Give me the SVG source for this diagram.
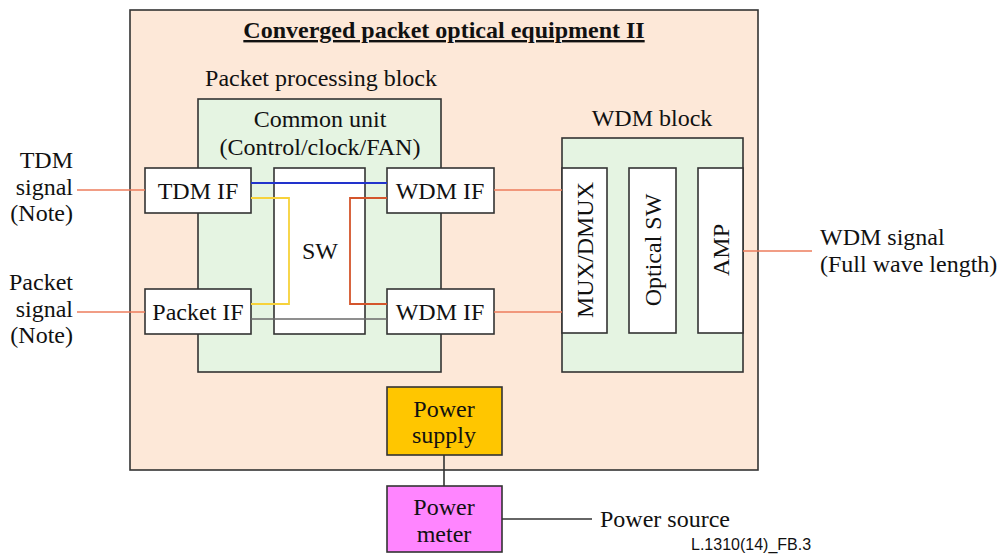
<svg xmlns="http://www.w3.org/2000/svg" width="998" height="555" viewBox="0 0 998 555">
<style>
.t{font-family:"Liberation Serif","Times New Roman",serif;font-size:24px;fill:#111}
.box{stroke:#333;stroke-width:1.6}
.w{fill:#fff}
.g{fill:#e5f4e2}
.sig{stroke:#ec7c5c;stroke-width:1.6;fill:none}
.blk{stroke:#333;stroke-width:1.6;fill:none}
</style>
<rect width="998" height="555" fill="#fff"/>
<g id="equipment">
<rect class="box" x="130" y="10" width="628" height="460" fill="#fde8d8"/>
<text class="t" x="444" y="38" text-anchor="middle" font-weight="bold" text-decoration="underline">Converged packet optical equipment II</text>
</g>
<g id="packet-block">
<text class="t" x="321" y="86" text-anchor="middle">Packet processing block</text>
<rect class="box g" x="198" y="99" width="243" height="273"/>
<text class="t" x="320" y="127" text-anchor="middle">Common unit</text>
<text class="t" x="320" y="155" text-anchor="middle">(Control/clock/FAN)</text>
</g>
<g id="wdm-block">
<text class="t" x="652" y="126" text-anchor="middle">WDM block</text>
<rect class="box g" x="562" y="138" width="181" height="234"/>
</g>
<g id="tdm-if"><rect class="box w" x="145" y="168" width="106" height="45"/><text class="t" x="198" y="199" text-anchor="middle">TDM IF</text></g>
<g id="packet-if"><rect class="box w" x="145" y="289" width="106" height="45"/><text class="t" x="198" y="320" text-anchor="middle">Packet IF</text></g>
<g id="sw"><rect class="box w" x="274" y="168" width="91" height="166"/><text class="t" x="320" y="259" text-anchor="middle">SW</text></g>
<g id="wdm-if-1"><rect class="box w" x="387" y="168" width="107" height="45"/><text class="t" x="440" y="199" text-anchor="middle">WDM IF</text></g>
<g id="wdm-if-2"><rect class="box w" x="387" y="289" width="107" height="45"/><text class="t" x="440" y="320" text-anchor="middle">WDM IF</text></g>
<g id="mux"><rect class="box w" x="562" y="168" width="45" height="165"/><text class="t" transform="translate(593,250) rotate(-90)" text-anchor="middle">MUX/DMUX</text></g>
<g id="optical-sw"><rect class="box w" x="629" y="168" width="47" height="165"/><text class="t" transform="translate(661,250) rotate(-90)" text-anchor="middle">Optical SW</text></g>
<g id="amp"><rect class="box w" x="698" y="168" width="45" height="165"/><text class="t" transform="translate(729,250) rotate(-90)" text-anchor="middle">AMP</text></g>
<g id="power-supply"><rect class="box" x="387" y="387" width="115" height="68" fill="#ffc600"/><text class="t" x="444" y="417" text-anchor="middle">Power</text><text class="t" x="444" y="443" text-anchor="middle">supply</text></g>
<g id="power-meter"><rect class="box" x="387" y="486" width="115" height="66" fill="#ff85ff"/><text class="t" x="444" y="515" text-anchor="middle">Power</text><text class="t" x="444" y="542" text-anchor="middle">meter</text></g>
<g id="labels">
<text class="t" text-anchor="end"><tspan x="73" y="168">TDM</tspan><tspan x="73" y="195">signal</tspan><tspan x="73" y="221">(Note)</tspan></text>
<text class="t" text-anchor="end"><tspan x="73" y="290">Packet</tspan><tspan x="73" y="317">signal</tspan><tspan x="73" y="343">(Note)</tspan></text>
<text class="t"><tspan x="820" y="245">WDM signal</tspan><tspan x="820" y="272">(Full wave length)</tspan></text>
<text class="t" x="600" y="527">Power source</text>
<text x="691" y="550" font-family="Liberation Sans,Arial,sans-serif" font-size="16" fill="#111">L.1310(14)_FB.3</text>
</g>
<g id="connectors">
<line class="sig" x1="77" y1="190" x2="145" y2="190"/>
<line class="sig" x1="77" y1="312" x2="145" y2="312"/>
<line class="sig" x1="494" y1="190" x2="562" y2="190"/>
<line class="sig" x1="494" y1="312" x2="562" y2="312"/>
<line class="sig" x1="743" y1="251" x2="812" y2="251"/>
<line x1="251" y1="183" x2="387" y2="183" stroke="#2233cc" stroke-width="1.8"/>
<polyline points="251,198 289,198 289,304 251,304" fill="none" stroke="#f7d23a" stroke-width="1.8"/>
<polyline points="387,198 350,198 350,304 387,304" fill="none" stroke="#d4552c" stroke-width="1.8"/>
<line x1="251" y1="319" x2="387" y2="319" stroke="#6a6a6a" stroke-width="1.6"/>
<line class="blk" x1="444" y1="455" x2="444" y2="486"/>
<line class="blk" x1="502" y1="519" x2="592" y2="519"/>
</g>
</svg>
